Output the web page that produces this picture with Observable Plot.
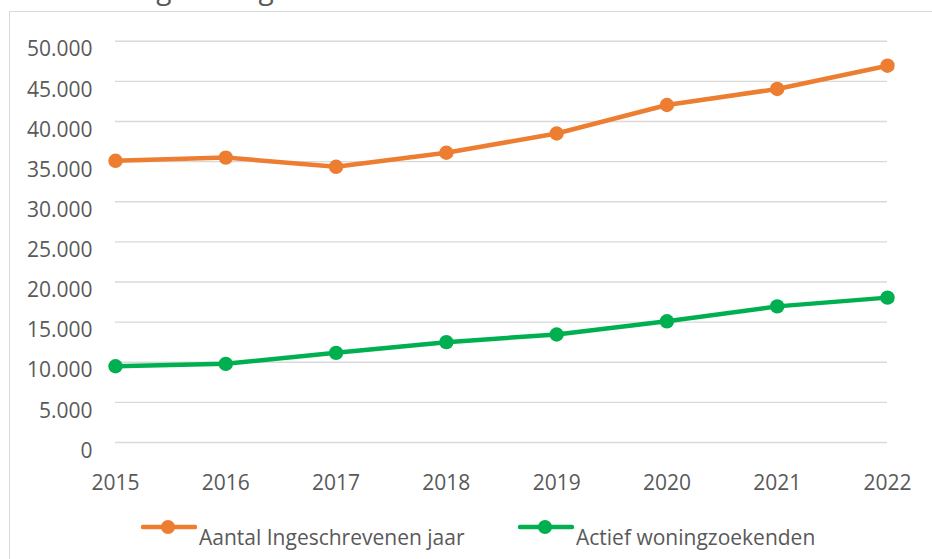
<!DOCTYPE html>
<html>
<head>
<meta charset="utf-8">
<script src="https://cdn.jsdelivr.net/npm/d3@7"></script>
<script src="https://cdn.jsdelivr.net/npm/@observablehq/plot@0.6"></script>
<style>
  html, body { margin: 0; padding: 0; background: #fff; }
  body { width: 932px; height: 559px; overflow: hidden; position: relative; font-family: "Open Sans", sans-serif; color: #595959; }
  #title { position: absolute; left: 2px; top: -31px; font-size: 28px; white-space: nowrap; color: #595959; }
  #frame { position: absolute; left: 9px; top: 11px; width: 940px; height: 600px; border-left: 1.5px solid #d9d9d9; border-top: 1.5px solid #d9d9d9; }
  #chart { position: absolute; left: 0; top: 0; }
  .leg { position: absolute; top: 515px; display: flex; align-items: flex-start; font-size: 21px; white-space: nowrap; }
  .leg svg { display: block; }
  .leg span { margin-top: 8px; margin-left: 2px; }
</style>
</head>
<body>
<div id="title">Ontwikkeling woningzoekenden</div>
<div id="frame"></div>
<div id="chart"></div>
<div class="leg" id="leg1" style="left:141px"></div>
<div class="leg" id="leg2" style="left:518px"></div>
<script>
const years = [2015, 2016, 2017, 2018, 2019, 2020, 2021, 2022];
const ingeschreven = [35100, 35500, 34350, 36100, 38500, 42050, 44050, 46950];
const actief = [9500, 9800, 11170, 12500, 13460, 15100, 16960, 18050];
const seriesNames = ["Aantal Ingeschrevenen jaar", "Actief woningzoekenden"];
const seriesColors = ["#ED7D31", "#00B050"];
const yTicks = [0, 5000, 10000, 15000, 20000, 25000, 30000, 35000, 40000, 45000, 50000];

const data = [
  ...years.map((y, i) => ({year: y, value: ingeschreven[i], series: seriesNames[0]})),
  ...years.map((y, i) => ({year: y, value: actief[i], series: seriesNames[1]}))
];

const nl = d3.formatLocale({decimal: ",", thousands: ".", grouping: [3], currency: ["€", ""]});
const fmt = nl.format(",d");

const chart = Plot.plot({
  width: 932,
  height: 559,
  marginLeft: 115,
  marginRight: 45,
  marginTop: 40.7,
  marginBottom: 117,
  style: {fontSize: "21px", fontFamily: "Open Sans, sans-serif", color: "#595959", background: "transparent", overflow: "visible"},
  x: {type: "linear", domain: [2015, 2022]},
  y: {domain: [0, 50000]},
  color: {domain: seriesNames, range: seriesColors},
  marks: [
    Plot.ruleY(yTicks, {stroke: "#d9d9d9", strokeWidth: 1.4, strokeOpacity: 1}),
    Plot.axisY({ticks: yTicks, tickSize: 0, tickPadding: 23, tickFormat: fmt, dy: 8.5, fill: "#595959", label: null}),
    Plot.axisX({ticks: years, tickSize: 0, tickPadding: 33, tickFormat: d => String(d), fill: "#595959", label: null}),
    Plot.line(data, {x: "year", y: "value", z: "series", stroke: "series", strokeWidth: 4.5, strokeLinejoin: "round"}),
    Plot.dot(data, {x: "year", y: "value", fill: "series", r: 7.2, stroke: null})
  ]
});
document.getElementById("chart").appendChild(chart);

function legendItem(el, name, color) {
  const ns = "http://www.w3.org/2000/svg";
  const svg = document.createElementNS(ns, "svg");
  svg.setAttribute("width", 56); svg.setAttribute("height", 24);
  const line = document.createElementNS(ns, "line");
  line.setAttribute("x1", 2); line.setAttribute("x2", 54); line.setAttribute("y1", 12); line.setAttribute("y2", 12);
  line.setAttribute("stroke", color); line.setAttribute("stroke-width", 4.5); line.setAttribute("stroke-linecap", "round");
  const c = document.createElementNS(ns, "circle");
  c.setAttribute("cx", 27); c.setAttribute("cy", 12); c.setAttribute("r", 7); c.setAttribute("fill", color);
  svg.appendChild(line); svg.appendChild(c);
  el.appendChild(svg);
  const s = document.createElement("span"); s.textContent = name; el.appendChild(s);
}
legendItem(document.getElementById("leg1"), seriesNames[0], seriesColors[0]);
legendItem(document.getElementById("leg2"), seriesNames[1], seriesColors[1]);
</script>
</body>
</html>
